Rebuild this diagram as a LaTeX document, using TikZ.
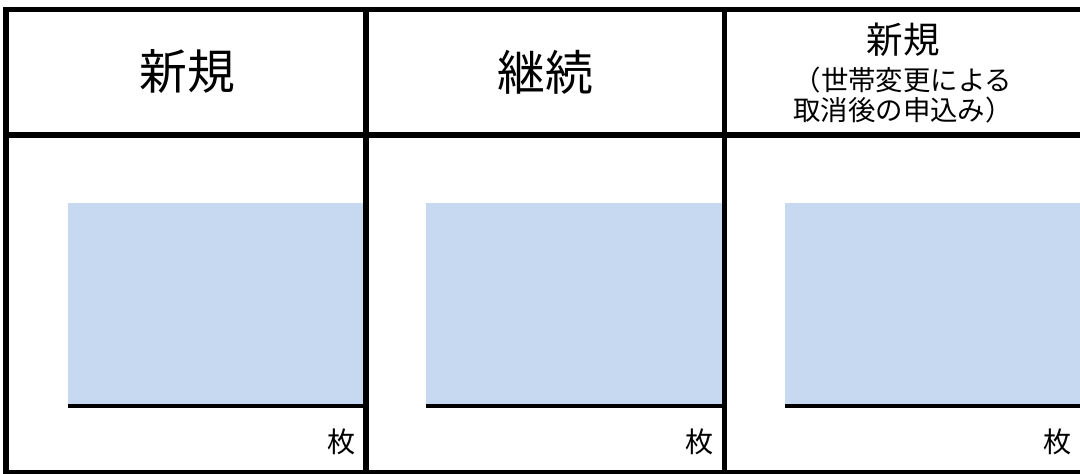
\documentclass[tikz,border=0pt]{standalone}
\usepackage{xcolor}
\usepackage{fontspec}
\setmainfont{Noto Sans CJK JP}
\definecolor{cellblue}{HTML}{C6D9F0}

\tikzset{
  frame/.style={line width=3.6pt},
  rule/.style={line width=2.2pt},
  bigtitle/.style={font=\fontsize{34}{36}\selectfont},
  midtitle/.style={font=\fontsize{26}{28}\selectfont},
  subtitle/.style={font=\fontsize{19.5}{21}\selectfont},
  unit/.style={font=\fontsize{20}{22}\selectfont, anchor=east}
}

\begin{document}
\begin{tikzpicture}[x=0.025cm, y=-0.025cm]
        \useasboundingbox (0,0) rectangle (1080,474);

        % Define the fill areas
        \fill[cellblue] (68,203) rectangle (366,406);
        \fill[cellblue] (426,203) rectangle (724,406);
        \fill[cellblue] (785,203) rectangle (1080,406);

        % Define the nodes
        \node[bigtitle] (shinki) at (187,72) {新規};
        \node[bigtitle] (keizoku) at (545,72) {継続};
        \node[midtitle] (shinki2) at (903,40) {新規};
        \node[subtitle] (note1) at (903,80) {（世帯変更による};
        \node[subtitle] (note2) at (903,110) {取消後の申込み）};
        \node[unit] (mai1) at (361,442) {枚};
        \node[unit] (mai2) at (719,442) {枚};
        \node[unit] (mai3) at (1077,442) {枚};

        % Draw the grid
        \coordinate (tl) at (6,9.5);
        \coordinate (tr) at (1080,9.5);
        \coordinate (bl) at (6,472.5);
        \coordinate (br) at (1080,472.5);
        \draw[frame] (tr) -- (tl) -- (bl) -- (br);
        \draw[frame] (8.5,135) -- (1080,135);
        \draw[frame] (366,9.5) -- (366,472.5);
        \draw[frame] (724.5,9.5) -- (724.5,472.5);

        % Draw the underlines
        \draw[rule] (68,406) -- (366,406);
        \draw[rule] (426,406) -- (724.5,406);
        \draw[rule] (785,406) -- (1080,406);
    \end{tikzpicture}
\end{document}
